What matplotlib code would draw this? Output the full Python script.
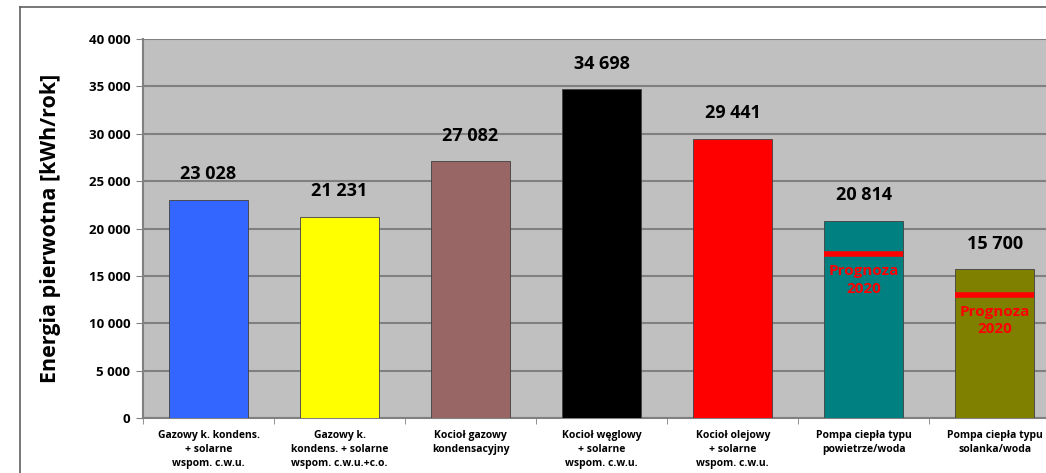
import matplotlib.pyplot as plt
import numpy as np
from matplotlib.lines import Line2D

plt.rcParams['font.family'] = ['Open Sans', 'DejaVu Sans']

categories = ['Gazowy k. kondens.\n+ solarne\nwspom. c.w.u.',
              'Gazowy k.\nkondens. + solarne\nwspom. c.w.u.+c.o.',
              'Kocioł gazowy\nkondensacyjny',
              'Kocioł węglowy\n+ solarne\nwspom. c.w.u.',
              'Kocioł olejowy\n+ solarne\nwspom. c.w.u.',
              'Pompa ciepła typu\npowietrze/woda',
              'Pompa ciepła typu\nsolanka/woda']
values = [23028, 21231, 27082, 34698, 29441, 20814, 15700]
value_labels = ['23 028', '21 231', '27 082', '34 698', '29 441', '20 814', '15 700']
colors = ['#3366ff', '#ffff00', '#996666', '#000000', '#ff0000', '#008080', '#808000']
forecast_idx = [5, 6]
forecast_values = [17300, 13000]
yticks = [0, 5000, 10000, 15000, 20000, 25000, 30000, 35000, 40000]
ytick_labels = ['0', '5 000', '10 000', '15 000', '20 000', '25 000', '30 000', '35 000', '40 000']

fig = plt.figure(figsize=(10.46, 4.73), dpi=100)
ax = fig.add_axes([0.1367, 0.1163, 0.877, 0.8012])
ax.set_facecolor('#c0c0c0')

x = np.arange(len(values))
ax.bar(x, values, width=0.6, color=colors, edgecolor='#404040', linewidth=0.6, zorder=3)

for i, v in enumerate(values):
    ax.annotate(value_labels[i], (i, v), xytext=(0, 12), textcoords='offset points',
                ha='center', va='bottom', fontsize=13, fontweight='bold')

for i, fv in zip(forecast_idx, forecast_values):
    ax.plot([i - 0.3, i + 0.3], [fv, fv], color='#ff0000', lw=4, zorder=4, solid_capstyle='butt')
    ax.annotate('Prognoza\n2020', (i, fv), xytext=(0, -7), textcoords='offset points',
                ha='center', va='top', fontsize=11, fontweight='bold', color='#ff0000',
                linespacing=1.35, zorder=5)

ax.set_xlim(-0.5, len(values) - 0.5)
ax.set_ylim(0, 40000)
ax.set_yticks(yticks)
ax.set_yticklabels(ytick_labels, fontsize=9.5, fontweight='bold')
ax.yaxis.grid(True, color='#808080', lw=1.5)
ax.set_axisbelow(True)

ax.set_xticks(x)
ax.set_xticklabels(categories, fontsize=7.5, fontweight='bold', linespacing=1.35)
ax.set_xticks(np.arange(len(values) + 1) - 0.5, minor=True)
ax.tick_params(axis='x', which='major', length=0, pad=9)
ax.tick_params(axis='x', which='minor', length=4, color='#808080')
ax.tick_params(axis='y', length=5, color='#808080', pad=4)

for s in ['top', 'right']:
    ax.spines[s].set_visible(False)
ax.spines['left'].set_color('#808080')
ax.spines['bottom'].set_color('#808080')
ax.spines['left'].set_linewidth(1.5)
ax.spines['bottom'].set_linewidth(1.5)

ax.set_ylabel('Energia pierwotna [kWh/rok]', fontsize=15.5, fontweight='bold', labelpad=20)

# outer frame
fig.add_artist(Line2D([20 / 1046, 20 / 1046], [0, 1 - 7 / 473], color='#606060', lw=1.2))
fig.add_artist(Line2D([20 / 1046, 1], [1 - 7 / 473, 1 - 7 / 473], color='#606060', lw=1.2))

fig.savefig('out.png', dpi=100)
